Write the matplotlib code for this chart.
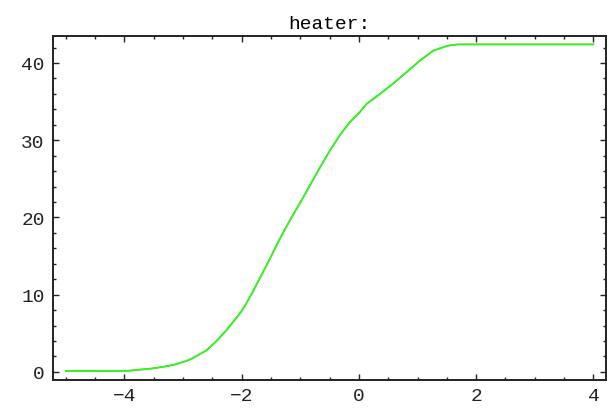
import numpy as np
import matplotlib
matplotlib.use("Agg")
import matplotlib.pyplot as plt
from matplotlib.ticker import MultipleLocator

# values
x_vals = [-5.0, -3.93, -3.52, -3.31, -3.17, -2.95, -2.83, -2.60, -2.43, -2.26,
          -2.09, -2.00, -1.92, -1.81, -1.70, -1.53, -1.36, -1.18, -1.01, -0.84,
          -0.67, -0.50, -0.33, -0.16, 0.01, 0.13, 0.36, 0.58, 0.81, 1.04,
          1.27, 1.50, 1.61, 1.70, 4.0]
y_vals = [0.1, 0.15, 0.45, 0.7, 0.9, 1.4, 1.8, 2.8, 4.0, 5.4,
          7.0, 7.9, 8.9, 10.4, 12.0, 14.5, 17.1, 19.6, 21.8, 24.1,
          26.4, 28.6, 30.6, 32.3, 33.6, 34.7, 36.0, 37.3, 38.8, 40.3,
          41.6, 42.2, 42.35, 42.4, 42.4]
title = "heater:"

plt.rcParams['font.family'] = ['Liberation Mono', 'DejaVu Sans Mono']

fig = plt.figure(figsize=(6.09, 4.10), dpi=100)
ax = fig.add_axes([0.087, 0.0707, 0.9076, 0.8383])

ax.plot(x_vals, y_vals, color='#ff2a00', linewidth=1.0, zorder=2)
ax.plot(x_vals, y_vals, color='#22ff22', linewidth=1.3, zorder=3)

ax.set_xlim(-5.22, 4.21)
ax.set_ylim(-1.05, 43.45)
ax.xaxis.set_major_locator(MultipleLocator(2))
ax.xaxis.set_minor_locator(MultipleLocator(0.5))
ax.yaxis.set_major_locator(MultipleLocator(10))
ax.yaxis.set_minor_locator(MultipleLocator(2))

ax.tick_params(which='both', direction='in', top=True, right=True,
               color='#222222', labelsize=14, width=1.0, labelcolor='#222222')
ax.tick_params(axis='x', which='both', pad=5)
ax.tick_params(axis='y', which='both', pad=6)
ax.tick_params(which='major', length=4)
ax.tick_params(which='minor', length=2.5)
for s in ax.spines.values():
    s.set_linewidth(1.4)
    s.set_color('#222222')

ax.set_title(title, fontsize=14, pad=6)

fig.savefig('out.png', dpi=100)
